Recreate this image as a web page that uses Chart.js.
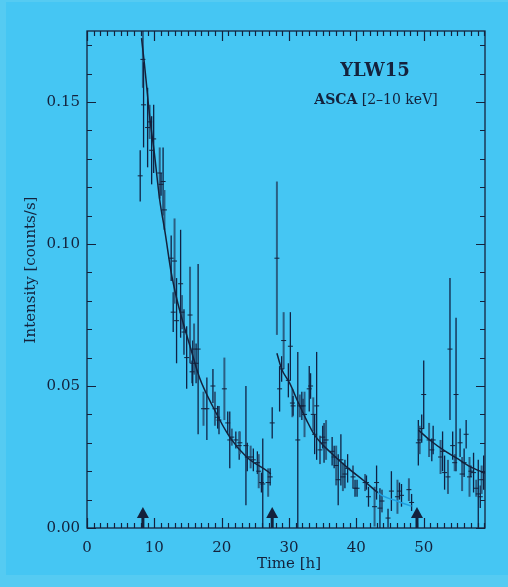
<!DOCTYPE html>
<html lang="en">
  <head>
    <meta charset="UTF-8" />
    <title>YLW15 ASCA light curve</title>
    <style>
      body { margin: 0; background: #55cbf2; }
    </style>
  </head>

  <body>
    <script src="https://cdn.jsdelivr.net/npm/chart.js"></script>
    <canvas id="lc" width="508" height="587"></canvas>

    <script>
      // binned light curve: time [h], rate [counts/s], 1-sigma error
      const times = [
        7.9, 8.3, 8.4, 9.0, 9.3, 9.6, 9.9, 10.8, 11.0, 11.3, 11.5, 12.5, 12.8, 13.0, 13.3,
        13.9, 14.1, 14.4, 14.8, 15.3, 15.6, 15.7, 15.9, 16.2, 16.5, 17.3, 17.8, 18.7, 19.0,
        19.4, 19.6, 20.4, 20.9, 21.2, 21.5, 22.1, 22.6, 22.7, 23.6, 23.8, 24.3, 24.7, 25.3,
        25.5, 25.9, 26.1, 26.9, 27.2, 27.5,
        28.2, 28.6, 28.9, 29.2, 29.9, 30.2, 30.5, 30.6, 31.3, 31.6, 31.9, 32.1, 32.3, 33.0,
        33.2, 33.6, 33.8, 34.1, 34.6, 35.0, 35.2, 35.5, 36.4, 36.7, 37.0, 37.3, 37.7, 38.0,
        38.3, 38.7, 39.5, 39.8, 40.1, 41.3, 41.5, 41.8, 42.7, 43.0, 43.5, 43.8, 44.7, 45.2,
        46.1, 46.4, 46.7, 47.8, 48.2,
        49.2, 49.4, 49.7, 50.0, 50.8, 51.2, 51.4, 52.5, 52.8, 53.1, 53.6, 53.9, 54.3, 54.6,
        54.8, 55.4, 55.7, 56.0, 56.3, 56.8, 57.0, 57.4, 57.8, 58.1, 58.4, 58.6, 58.9
      ]
      const rates = [
        0.124, 0.165, 0.149, 0.141, 0.143, 0.133, 0.137, 0.125, 0.121, 0.122, 0.112, 0.095, 0.076, 0.094, 0.073,
        0.086, 0.076, 0.069, 0.060, 0.075, 0.055, 0.058, 0.063, 0.058, 0.063, 0.042, 0.042, 0.050, 0.042,
        0.039, 0.038, 0.049, 0.037, 0.031, 0.032, 0.031, 0.029, 0.030, 0.029, 0.025, 0.025, 0.024, 0.023,
        0.020, 0.016, 0.0155, 0.016, 0.018, 0.037,
        0.095, 0.049, 0.056, 0.066, 0.052, 0.064, 0.044, 0.043, 0.031, 0.043, 0.043, 0.043, 0.040, 0.049,
        0.050, 0.040, 0.033, 0.043, 0.0275, 0.032, 0.030, 0.031, 0.027, 0.025, 0.022, 0.017, 0.024, 0.018,
        0.019, 0.021, 0.018, 0.014, 0.014, 0.016, 0.016, 0.011, 0.0075, 0.016, 0.007, 0.0095, 0.0035, 0.013,
        0.011, 0.013, 0.0115, 0.0135, 0.009,
        0.030, 0.031, 0.035, 0.047, 0.031, 0.0275, 0.031, 0.025, 0.027, 0.0195, 0.018, 0.063, 0.029, 0.023,
        0.047, 0.030, 0.019, 0.023, 0.033, 0.018, 0.020, 0.0195, 0.014, 0.012, 0.011, 0.017, 0.0195
      ]
      const errors = [
        0.009, 0.010, 0.015, 0.014, 0.006, 0.012, 0.012, 0.009, 0.004, 0.012, 0.007, 0.008, 0.007, 0.015, 0.015,
        0.019, 0.006, 0.008, 0.011, 0.017, 0.004, 0.008, 0.009, 0.007, 0.030, 0.006, 0.011, 0.006, 0.006,
        0.004, 0.005, 0.011, 0.004, 0.010, 0.003, 0.003, 0.005, 0.004, 0.021, 0.005, 0.004, 0.004, 0.004,
        0.006, 0.0035, 0.016, 0.005, 0.003, 0.0055,
        0.027, 0.008, 0.0045, 0.010, 0.006, 0.012, 0.005, 0.0035, 0.031, 0.004, 0.005, 0.0025, 0.008, 0.008,
        0.0045, 0.006, 0.007, 0.019, 0.005, 0.004, 0.007, 0.007, 0.005, 0.004, 0.007, 0.009, 0.009, 0.005,
        0.005, 0.005, 0.004, 0.003, 0.003, 0.003, 0.0025, 0.0035, 0.007, 0.006, 0.007, 0.004, 0.0033, 0.007,
        0.006, 0.003, 0.004, 0.004, 0.003,
        0.008, 0.005, 0.005, 0.012, 0.006, 0.004, 0.005, 0.006, 0.007, 0.006, 0.006, 0.025, 0.005, 0.003,
        0.027, 0.005, 0.006, 0.005, 0.005, 0.007, 0.002, 0.007, 0.003, 0.012, 0.004, 0.005, 0.006
      ]

      // decay fits of the three flares
      const fit1T = [8.1, 8.5, 8.8, 9.3, 10.0, 10.8, 11.6, 12.5, 13.3, 14.3, 15.3, 16.7, 18.7, 21.2, 23.7, 26.9, 27.3]
      const fit1Y = [0.1725, 0.164, 0.157, 0.145, 0.132, 0.1155, 0.104, 0.090, 0.081, 0.072, 0.064, 0.053, 0.0427, 0.032, 0.025, 0.0198, 0.019]
      const fit2T = [28.2, 28.9, 30.1, 31.4, 32.6, 33.8, 36.3, 38.8, 41.3, 43.0, 43.2]
      const fit2Y = [0.0615, 0.056, 0.051, 0.044, 0.038, 0.0327, 0.0263, 0.021, 0.0163, 0.0128, 0.0125]
      const fit2TailT = [43.2, 43.7, 46.0, 48.2]
      const fit2TailY = [0.0125, 0.0116, 0.0095, 0.0077]
      const fit3T = [49.2, 50.9, 52.9, 54.9, 56.9, 59.1]
      const fit3Y = [0.0345, 0.031, 0.0275, 0.0246, 0.0216, 0.0193]

      // flare onsets marked on the time axis
      const arrowTimes = [8.3, 27.5, 49.0]

      const xTicks = [0, 10, 20, 30, 40, 50]
      const yTicks = [0, 0.05, 0.1, 0.15]

      const ink = '#14223c'
      const font = "'DejaVu Serif', serif"

      const pairs = (xs, ys) => xs.map((x, i) => ({ x, y: ys[i] }))

      const backdrop = {
        id: 'backdrop',
        beforeDraw(chart) {
          const ctx = chart.ctx
          ctx.save()
          ctx.fillStyle = '#55cbf2'
          ctx.fillRect(0, 0, chart.width, chart.height)
          ctx.fillStyle = '#45c6f3'
          ctx.fillRect(6, 2, chart.width - 6, chart.height - 14)
          ctx.restore()
        },
      }

      const errorBars = {
        id: 'errorBars',
        beforeDatasetsDraw(chart) {
          const { ctx, scales } = chart
          ctx.save()
          times.forEach((t, i) => {
            const px = scales.x.getPixelForValue(t)
            const lo = scales.y.getPixelForValue(Math.max(0, rates[i] - errors[i]))
            const hi = scales.y.getPixelForValue(rates[i] + errors[i])
            const soft = i % 3 === 1
            ctx.strokeStyle = soft ? '#2b5f83' : '#0f2244'
            ctx.lineWidth = soft ? 2 : 1.3
            ctx.beginPath()
            ctx.moveTo(px, lo)
            ctx.lineTo(px, hi)
            ctx.stroke()
          })
          ctx.restore()
        },
      }

      const frame = {
        id: 'frame',
        afterDraw(chart) {
          const { ctx, chartArea: a, scales } = chart
          ctx.save()
          ctx.strokeStyle = ink
          ctx.lineWidth = 1.3
          ctx.strokeRect(a.left, a.top, a.right - a.left, a.bottom - a.top)

          // inward ticks on all four sides
          ctx.lineWidth = 1.2
          ctx.beginPath()
          for (let t = 0; t <= scales.x.max; t += 1) {
            const px = Math.round(scales.x.getPixelForValue(t)) + 0.5
            const len = t % 10 === 0 ? 10 : 5
            ctx.moveTo(px, a.bottom); ctx.lineTo(px, a.bottom - len)
            ctx.moveTo(px, a.top); ctx.lineTo(px, a.top + len)
          }
          for (let k = 0; k * 0.01 <= scales.y.max; k += 1) {
            const py = Math.round(scales.y.getPixelForValue(k * 0.01)) + 0.5
            const len = k % 5 === 0 ? 9 : 5
            ctx.moveTo(a.left, py); ctx.lineTo(a.left + len, py)
            ctx.moveTo(a.right, py); ctx.lineTo(a.right - len, py)
          }
          ctx.stroke()

          // onset arrows
          ctx.fillStyle = ink
          arrowTimes.forEach((t) => {
            const px = scales.x.getPixelForValue(t)
            const base = a.bottom
            ctx.fillRect(px - 1.5, base - 12, 3, 12)
            ctx.beginPath()
            ctx.moveTo(px, base - 21)
            ctx.lineTo(px - 6, base - 10)
            ctx.lineTo(px + 6, base - 10)
            ctx.closePath()
            ctx.fill()
          })

          // labels
          ctx.fillStyle = ink
          ctx.textAlign = 'center'
          ctx.textBaseline = 'middle'
          ctx.font = `bold 18px ${font}`
          ctx.fillText('YLW15', 375, 71)
          const rest = ' [2\u201310 keV]'
          ctx.font = `bold 14px ${font}`
          const w1 = ctx.measureText('ASCA').width
          ctx.font = `14px ${font}`
          const w2 = ctx.measureText(rest).width
          const x0 = 376 - (w1 + w2) / 2
          ctx.textAlign = 'left'
          ctx.font = `bold 14px ${font}`
          ctx.fillText('ASCA', x0, 100)
          ctx.font = `14px ${font}`
          ctx.fillText(rest, x0 + w1, 100)

          ctx.textAlign = 'center'
          ctx.font = `15px ${font}`
          ctx.fillText('Time [h]', 289, 564)
          ctx.translate(31, 270)
          ctx.rotate(-Math.PI / 2)
          ctx.fillText('Intensity [counts/s]', 0, 0)
          ctx.restore()
        },
      }

      const line = (data, color, width) => ({
        type: 'line',
        data,
        borderColor: color,
        borderWidth: width,
        pointRadius: 0,
        fill: false,
        cubicInterpolationMode: 'monotone',
      })

      new Chart(document.getElementById('lc'), {
        type: 'scatter',
        data: {
          datasets: [
            {
              data: pairs(times, rates),
              pointStyle: 'line',
              pointRadius: 2.5,
              borderColor: ink,
              borderWidth: 1,
              backgroundColor: ink,
            },
            line(pairs(fit1T, fit1Y), ink, 1.5),
            line(pairs(fit2T, fit2Y), ink, 1.5),
            line(pairs(fit2TailT, fit2TailY), '#1f9fe0', 1.5),
            line(pairs(fit3T, fit3Y), ink, 1.5),
          ],
        },
        options: {
          responsive: false,
          animation: false,
          layout: { padding: { top: 31, right: 23, bottom: 0, left: 0 } },
          plugins: { legend: { display: false }, tooltip: { enabled: false } },
          scales: {
            x: {
              type: 'linear',
              min: 0,
              max: 59.1,
              afterBuildTicks: (s) => { s.ticks = xTicks.map((v) => ({ value: v })) },
              afterFit: (s) => { s.height = 59 },
              grid: { display: false, drawTicks: false },
              border: { display: false },
              ticks: { padding: 11, color: ink, font: { family: font, size: 15 }, maxRotation: 0 },
            },
            y: {
              type: 'linear',
              min: 0,
              max: 0.175,
              afterBuildTicks: (s) => { s.ticks = yTicks.map((v) => ({ value: v })) },
              afterFit: (s) => { s.width = 87 },
              grid: { display: false, drawTicks: false },
              border: { display: false },
              ticks: {
                padding: 7,
                color: ink,
                font: { family: font, size: 15 },
                callback: (v) => v.toFixed(2),
              },
            },
          },
        },
        plugins: [backdrop, errorBars, frame],
      })
    </script>
  </body>
</html>
